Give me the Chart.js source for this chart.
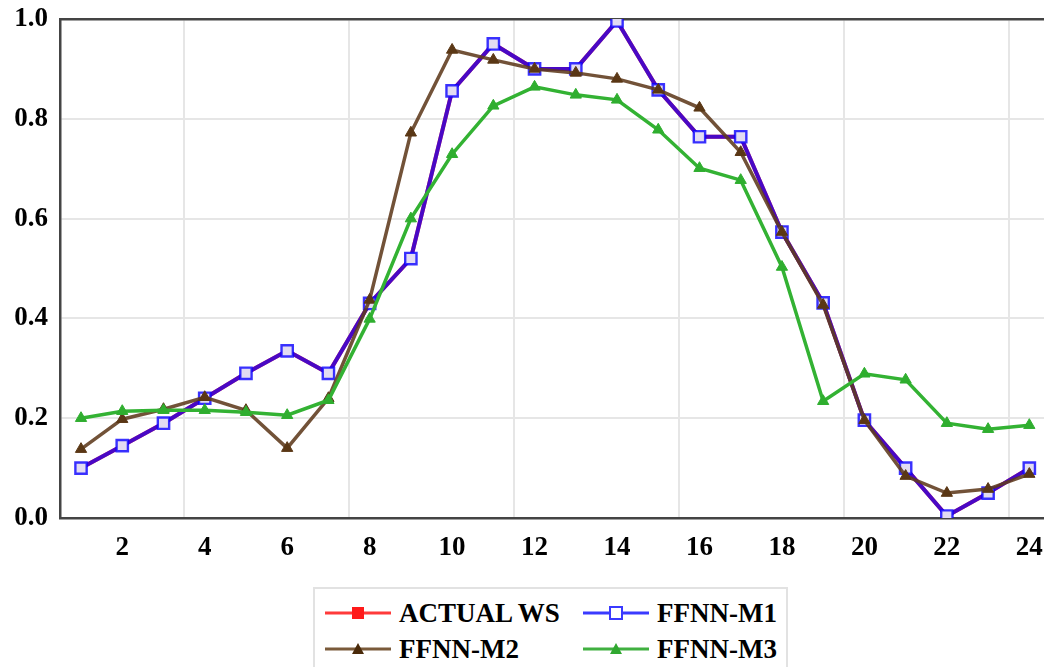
<!DOCTYPE html>
<html>
<head>
<meta charset="utf-8">
<script src="https://cdn.jsdelivr.net/npm/chart.js@4"></script>
<style>
  html, body { margin: 0; padding: 0; background: #fff; overflow: hidden; }
  #wrap { position: absolute; left: 0; top: 0; width: 1057px; height: 580px; }
  #legend {
    position: absolute; left: 313px; top: 587px; width: 475px; height: 100px;
    border: 2px solid #e2e2e2; box-sizing: border-box;
    font: bold 27px "Liberation Serif", "Times New Roman", serif; color: #000;
  }
  .item { position: absolute; display: flex; align-items: center; height: 30px; white-space: nowrap; }
  .item svg { margin-right: 8px; }
</style>
</head>
<body>
<div id="wrap"><canvas id="chart"></canvas></div>
<div id="legend"></div>
<script>
// hours on the x axis
const hours = [1, 2, 3, 4, 5, 6, 7, 8, 9, 10, 11, 12, 13, 14, 15, 16, 17, 18, 19, 20, 21, 22, 23, 24];
const xTickValues = [2, 4, 6, 8, 10, 12, 14, 16, 18, 20, 22, 24];
const xGridValues = [3.5, 7.5, 11.5, 15.5, 19.5, 23.5];

const actualWS = [0.10, 0.145, 0.19, 0.24, 0.29, 0.335, 0.29, 0.43, 0.52, 0.856, 0.95, 0.90,
                  0.90, 0.996, 0.858, 0.764, 0.764, 0.573, 0.431, 0.196, 0.10, 0.004, 0.05, 0.10];
const ffnnM1 = [0.10, 0.145, 0.19, 0.24, 0.29, 0.335, 0.29, 0.43, 0.52, 0.856, 0.95, 0.90,
                0.90, 0.996, 0.858, 0.764, 0.764, 0.573, 0.431, 0.196, 0.10, 0.004, 0.05, 0.10];
const ffnnM2 = [0.138, 0.198, 0.218, 0.242, 0.216, 0.14, 0.24, 0.437, 0.772, 0.938, 0.918, 0.90,
                0.892, 0.88, 0.858, 0.822, 0.733, 0.573, 0.427, 0.196, 0.084, 0.05, 0.058, 0.088];
const ffnnM3 = [0.20, 0.214, 0.216, 0.216, 0.212, 0.206, 0.236, 0.399, 0.60, 0.729, 0.826, 0.864,
                0.848, 0.838, 0.778, 0.701, 0.677, 0.503, 0.234, 0.289, 0.277, 0.19, 0.178, 0.186];

const seriesNames = ["ACTUAL WS", "FFNN-M1", "FFNN-M2", "FFNN-M3"];

const tickFont = { family: "'Liberation Serif', 'Times New Roman', serif", size: 27, weight: "bold" };
const gridColor = "#e6e6e6";
const frameColor = "#444";

const pts = arr => hours.map((h, i) => ({ x: h, y: arr[i] }));

const datasets = [
  {
    label: seriesNames[0], data: pts(actualWS), order: 4,
    borderColor: "#ff2020", backgroundColor: "#ff2020", borderWidth: 4,
    pointStyle: "rect", pointRadius: 6, pointBackgroundColor: "#ff2020", pointBorderWidth: 0,
    legendColor: "#ff3a3a", legendFill: "#ff1a1a"
  },
  {
    label: seriesNames[1], data: pts(ffnnM1), order: 3,
    borderColor: "rgba(10,0,255,0.74)", borderWidth: 4,
    pointStyle: "rect", pointRadius: 8, pointBorderWidth: 2.4,
    pointBorderColor: "rgba(10,0,255,0.8)", pointBackgroundColor: "#e2dcf2",
    legendColor: "#3a3aff", legendFill: "#ffffff"
  },
  {
    label: seriesNames[2], data: pts(ffnnM2), order: 2,
    borderColor: "rgba(95,58,28,0.88)", backgroundColor: "#5a3715", borderWidth: 3.5,
    pointStyle: "triangle", pointRadius: 6.5, pointBorderWidth: 1,
    pointBorderColor: "#5a3715", pointBackgroundColor: "#5a3715",
    legendColor: "#7a5a3a", legendFill: "#4a2a0a"
  },
  {
    label: seriesNames[3], data: pts(ffnnM3), order: 1,
    borderColor: "#33b233", backgroundColor: "#2fae2f", borderWidth: 3.5,
    pointStyle: "triangle", pointRadius: 6.5, pointBorderWidth: 1,
    pointBorderColor: "#2fae2f", pointBackgroundColor: "#2fae2f",
    legendColor: "#40b040", legendFill: "#30a830"
  }
];

const chart = new Chart(document.getElementById("chart"), {
  type: "line",
  data: { datasets },
  options: {
    responsive: true,
    maintainAspectRatio: false,
    animation: false,
    devicePixelRatio: 1,
    layout: { padding: { top: 19, right: 0, left: 0, bottom: 0 } },
    elements: { line: { tension: 0 } },
    plugins: { legend: { display: false }, tooltip: { enabled: false } },
    scales: {
      x: {
        type: "linear", position: "bottom", min: 0.49, max: 24.41,
        afterBuildTicks: s => { s.ticks = xTickValues.map(v => ({ value: v })); },
        afterFit: s => { s.height = 62; },
        grid: { display: false, drawTicks: false },
        border: { color: frameColor, width: 2.5 },
        ticks: { font: tickFont, color: "#000", padding: 14, maxRotation: 0, autoSkip: false }
      },
      xGrid: {
        type: "linear", position: "top", min: 0.49, max: 24.41,
        afterBuildTicks: s => { s.ticks = xGridValues.map(v => ({ value: v })); },
        afterFit: s => { s.height = 0; },
        grid: { color: gridColor, lineWidth: 2, drawTicks: false },
        border: { color: frameColor, width: 2.5 },
        ticks: { display: false }
      },
      y: {
        min: 0, max: 1,
        afterFit: s => { s.width = 60; s.paddingTop = 0; s.paddingBottom = 0; },
        grid: { color: gridColor, lineWidth: 2, drawTicks: false },
        border: { color: frameColor, width: 2.5 },
        ticks: { stepSize: 0.2, font: tickFont, color: "#000", padding: 12,
                 callback: v => v.toFixed(1) }
      }
    }
  }
});

// html legend: line sample with marker, two columns
const legendEl = document.getElementById("legend");
const cols = [10, 268];
const rows = [9, 45];
chart.data.datasets.forEach((ds, i) => {
  const item = document.createElement("div");
  item.className = "item";
  item.style.left = cols[i % 2] + "px";
  item.style.top = rows[Math.floor(i / 2)] + "px";
  let marker;
  if (ds.pointStyle === "rect") {
    marker = `<rect x="27" y="4" width="12" height="12" fill="${ds.legendFill}" stroke="${ds.legendColor}" stroke-width="${i === 1 ? 2 : 0}"/>`;
  } else {
    marker = `<polygon points="33,4 39,15 27,15" fill="${ds.legendFill}"/>`;
  }
  item.innerHTML =
    `<svg width="66" height="20"><line x1="0" y1="10" x2="66" y2="10" stroke="${ds.legendColor}" stroke-width="3"/>${marker}</svg>` +
    `<span>${ds.label}</span>`;
  legendEl.appendChild(item);
});
</script>
</body>
</html>
